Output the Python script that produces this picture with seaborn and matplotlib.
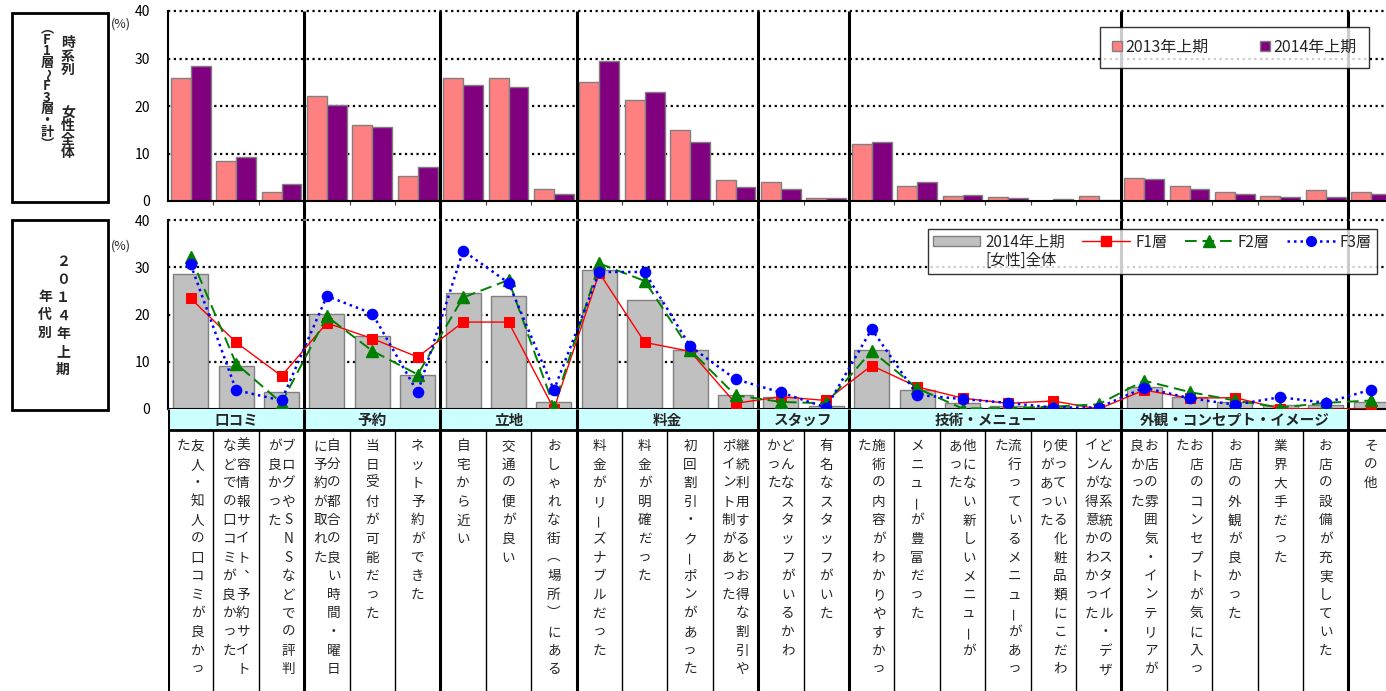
import numpy as np
import pandas as pd
import matplotlib
matplotlib.use('Agg')
import matplotlib.pyplot as plt
import seaborn as sns
from matplotlib.lines import Line2D
from matplotlib.patches import Patch, Rectangle

sns.set_theme(style='white')
plt.rcParams['font.family'] = ['Noto Sans CJK JP', 'DejaVu Sans']

# ---- data ----
groups = ['口コミ', '予約', '立地', '料金', 'スタッフ', '技術・メニュー', '外観・コンセプト・イメージ', '']
group_sizes = [3, 3, 3, 4, 2, 6, 5, 1]

# item labels, split into vertical columns (right column first)
label_cols = [
    ['友人・知人の口コミが良かっ', 'た'],
    ['美容情報サイト、予約サイト', 'などでの口コミが良かった'],
    ['ブログやSNSなどでの評判', 'が良かった'],
    ['自分の都合の良い時間・曜日', 'に予約が取れた'],
    ['当日受付が可能だった'],
    ['ネット予約ができた'],
    ['自宅から近い'],
    ['交通の便が良い'],
    ['おしゃれな街（場所）にある'],
    ['料金がリーズナブルだった'],
    ['料金が明確だった'],
    ['初回割引・クーポンがあった'],
    ['継続利用するとお得な割引や', 'ポイント制があった'],
    ['どんなスタッフがいるかわ', 'かった'],
    ['有名なスタッフがいた'],
    ['施術の内容がわかりやすかっ', 'た'],
    ['メニューが豊富だった'],
    ['他にない新しいメニューが', 'あった'],
    ['流行っているメニューがあっ', 'た'],
    ['使っている化粧品類にこだわ', 'りがあった'],
    ['どんな系統のスタイル・デザ', 'インが得意かわかった'],
    ['お店の雰囲気・インテリアが', '良かった'],
    ['お店のコンセプトが気に入っ', 'た'],
    ['お店の外観が良かった'],
    ['業界大手だった'],
    ['お店の設備が充実していた'],
    ['その他'],
]
items = [''.join(c) for c in label_cols]

pct_2013 = [25.8, 8.5, 2.0, 22.2, 16.0, 5.2, 26.0, 26.0, 2.5, 25.0, 21.2, 15.0, 4.5, 4.0, 0.7,
            12.0, 3.2, 1.0, 0.8, 0.0, 1.0, 4.8, 3.2, 1.8, 1.1, 2.3, 1.8]
pct_2014 = [28.5, 9.2, 3.5, 20.2, 15.5, 7.2, 24.5, 24.0, 1.5, 29.5, 23.0, 12.5, 3.0, 2.5, 0.6,
            12.4, 4.0, 1.2, 0.7, 0.4, 0.2, 4.7, 2.5, 1.5, 0.8, 0.8, 1.5]
f1 = [23.4, 14.1, 7.0, 18.2, 14.9, 11.0, 18.4, 18.4, 0.0, 28.8, 14.1, 12.2, 1.2, 2.6, 1.8,
      9.2, 4.7, 2.3, 1.2, 1.7, 0.0, 4.0, 2.3, 2.4, 0.1, 0.0, 0.0]
f2 = [32.2, 9.6, 1.3, 19.6, 12.3, 7.3, 23.6, 27.3, 0.5, 30.8, 27.1, 12.5, 2.9, 1.5, 1.2,
      12.3, 4.4, 0.1, 0.2, 0.5, 1.0, 6.0, 3.6, 1.8, 0.3, 1.3, 1.8]
f3 = [30.6, 4.0, 1.8, 23.9, 20.2, 3.5, 33.5, 26.7, 4.0, 29.0, 29.0, 13.3, 6.3, 3.5, 0.3,
      16.9, 3.0, 2.1, 1.3, 0.3, 0.3, 4.5, 2.3, 0.9, 2.5, 1.3, 4.1]

periods = ['2013年上期', '2014年上期']
period_colors = {'2013年上期': '#FF8080', '2014年上期': '#800080'}

df_top = pd.DataFrame({
    'item': items * 2,
    'period': [periods[0]] * len(items) + [periods[1]] * len(items),
    'pct': pct_2013 + pct_2014,
})

# ---- layout (pixels) ----
W, H = 1386, 691
x0, cell = 168, 45.4
n = len(items)
x1 = x0 + n * cell


def rect(top, bottom):
    return [x0 / W, 1 - bottom / H, (x1 - x0) / W, (bottom - top) / H]


fig = plt.figure(figsize=(W / 100, H / 100), dpi=100)
ax_top = fig.add_axes(rect(11, 201))
ax_bot = fig.add_axes(rect(220, 409))
ax_lab = fig.add_axes(rect(409, 691))

bounds = np.cumsum(group_sizes)[:-1] - 0.5
inner = [i + 0.5 for i in range(n - 1) if (i + 0.5) not in bounds]

F2_LS = (0, (6, 3))
F3_LS = (0, (1, 1.6))

# ---- top chart ----
sns.barplot(data=df_top, x='item', y='pct', hue='period', order=items, hue_order=periods,
            palette=period_colors, saturation=1, width=0.88, edgecolor='#808080',
            linewidth=1, legend=False, ax=ax_top)

# ---- bottom chart ----
sns.barplot(x=items, y=pct_2014, order=items, color='#C0C0C0', saturation=1, width=0.77,
            edgecolor='#808080', linewidth=1, ax=ax_bot)
sns.pointplot(x=items, y=f1, order=items, color='#FF0000', marker='s', markersize=7,
              linestyle='-', linewidth=1, errorbar=None, zorder=6, ax=ax_bot)
sns.pointplot(x=items, y=f2, order=items, color='#008000', marker='^', markersize=8,
              linestyle=F2_LS, linewidth=1.4, errorbar=None, zorder=6, ax=ax_bot)
sns.pointplot(x=items, y=f3, order=items, color='#0000FF', marker='o', markersize=7,
              linestyle=F3_LS, linewidth=1.8, errorbar=None, zorder=6, ax=ax_bot)

for ax, ext in [(ax_top, -18 / 4.75), (ax_bot, 0)]:
    ax.set_xlim(-0.5, n - 0.5)
    ax.set_ylim(0, 40)
    ax.set_facecolor('none')
    ax.set_xlabel('')
    ax.set_ylabel('')
    ax.set_xticks([])
    ax.set_yticks([0, 10, 20, 30, 40])
    ax.tick_params(axis='y', length=0, pad=13, labelsize=10, labelcolor='black')
    ax.grid(False)
    for s in ['top', 'right']:
        ax.spines[s].set_visible(False)
    for s in ['left', 'bottom']:
        ax.spines[s].set_color('black')
        ax.spines[s].set_linewidth(1.5)
    for v in [10, 20, 30, 40]:
        ax.axhline(v, color='black', lw=1.6, ls=(0, (1, 1.6)), zorder=0.5, clip_on=False)
    ax.vlines(bounds, ext, 40, color='black', lw=2.2, zorder=3, clip_on=False)
    ax.text(-0.03, 0.93 if ax is ax_top else 0.86, '(%)', transform=ax.transAxes,
            ha='right', va='center', fontsize=9)

ax_top.vlines(inner, -0.9, 0, color='#404040', lw=0.8, clip_on=False)

# legends
leg1 = ax_top.legend(
    handles=[Patch(facecolor=period_colors[p], edgecolor='#808080') for p in periods],
    labels=periods, ncol=2, loc='upper left', bbox_to_anchor=(1100 / W, 1 - 27 / H),
    bbox_transform=fig.transFigure, frameon=True, fancybox=False, fontsize=11.5,
    handlelength=0.6, handleheight=0.6, handletextpad=0.25, columnspacing=3.2,
    borderpad=0.75, borderaxespad=0)
leg1.get_frame().set_edgecolor('black')
leg1.get_frame().set_linewidth(1)
leg1.set_zorder(10)

# second line of the first legend entry is a handle-less entry
leg_handles = [
    Patch(facecolor='#C0C0C0', edgecolor='#808080'),
    Patch(visible=False),
    Line2D([], [], color='#FF0000', marker='s', markersize=7, lw=1),
    Line2D([], [], color='#008000', marker='^', markersize=8, lw=1.4, ls=F2_LS),
    Line2D([], [], color='#0000FF', marker='o', markersize=7, lw=1.8, ls=F3_LS),
]
leg2 = ax_bot.legend(
    handles=leg_handles, labels=['2014年上期', '[女性]全体', 'F1層', 'F2層', 'F3層'],
    ncol=4, loc='upper left', bbox_to_anchor=(928 / W, 1 - 229 / H),
    bbox_transform=fig.transFigure, frameon=True, fancybox=False, fontsize=11,
    handlelength=3.1, handleheight=0.6, handletextpad=0.35, columnspacing=1.15,
    labelspacing=0.1, borderpad=0.3, borderaxespad=0)
leg2.get_frame().set_edgecolor('black')
leg2.get_frame().set_linewidth(1)
leg2.set_zorder(10)

# ---- category band + vertical item labels ----
ax_lab.set_xlim(-0.5, n - 0.5)
ax_lab.set_ylim(691, 409)
ax_lab.axis('off')
ax_lab.add_patch(Rectangle((-0.5, 409), n - 1, 21, facecolor='#CCFFFF', edgecolor='none'))
ax_lab.hlines(430, -0.5, n - 0.5, color='black', lw=2)
ax_lab.vlines(list(bounds) + [-0.5], 409, 691, color='black', lw=2.2)
ax_lab.vlines(inner, 430, 691, color='black', lw=1)

start = 0
for g, size in zip(groups, group_sizes):
    if g:
        ax_lab.text(start + (size - 1) / 2, 420, g, ha='center', va='center',
                    fontsize=10.5, fontweight='bold')
    start += size

# vertical-writing forms
vert_forms = {'（': '︵', '）': '︶', '、': '︑'}
rot_chars = {'ー': 90, '～': -90}


def vchar(ch):
    return vert_forms.get(ch, ch), rot_chars.get(ch, 0)


def vtext(ax, x, y, s, step, **kw):
    for k, ch in enumerate(s):
        if ch in ' 　':
            continue
        c, r = vchar(ch)
        ax.text(x, y + k * step, c, ha='center', va='center', rotation=r, **kw)


for i, cols in enumerate(label_cols):
    if len(cols) == 1:
        xs = [i]
    else:
        xs = [i + 0.15, i - 0.15]
    for xc, s in zip(xs, cols):
        vtext(ax_lab, xc, 446, s, 18.6, fontsize=9.8)

# ---- left title boxes ----
for top, bottom in [(13, 202), (220, 410)]:
    fig.add_artist(Rectangle((12 / W, 1 - bottom / H), 96 / W, (bottom - top) / H,
                             transform=fig.transFigure, fill=False, edgecolor='black', lw=2))


def ftext(x, y, s, step, **kw):
    for k, ch in enumerate(s):
        if ch in ' 　':
            continue
        c, r = vchar(ch)
        fig.text(x / W, 1 - (y + k * step) / H, c, ha='center', va='center',
                 rotation=r, fontweight='bold', **kw)


ftext(68, 43, '時系列', 13.5, fontsize=10)
ftext(68, 113, '女性全体', 13.4, fontsize=10)
ftext(47, 28, '（F1層～F3層・計）', 11.6, fontsize=9.5)
ftext(63, 262, '２０１４年上期', 18, fontsize=10)
ftext(45, 297, '年代別', 18, fontsize=10)

fig.savefig('out.png', dpi=100)
